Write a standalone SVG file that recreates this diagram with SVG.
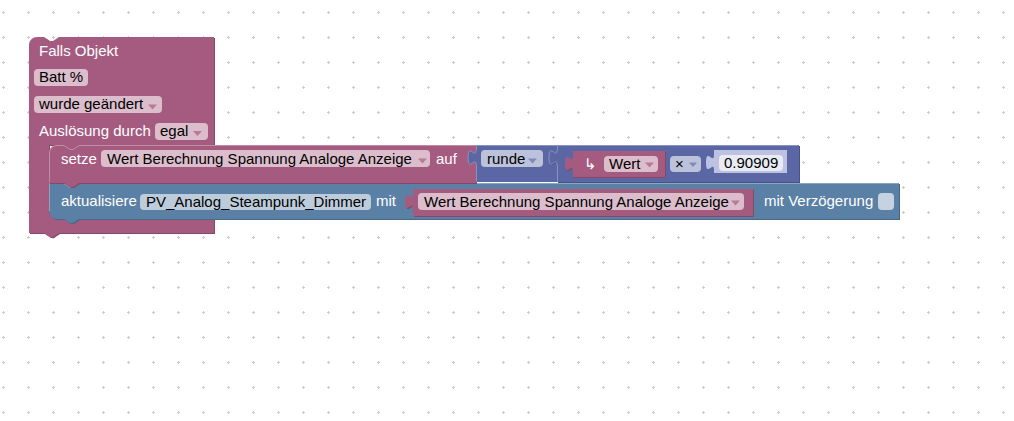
<svg xmlns="http://www.w3.org/2000/svg" width="1014" height="421" viewBox="0 0 1014 421">
<defs>
<pattern id="grid" patternUnits="userSpaceOnUse" x="0" y="0" width="25" height="25">
<path d="M2,12.5 H5 M3.5,11 V14" stroke="#cccccc" stroke-width="1" fill="none"/>
</pattern>
<style>
text{font-family:"Liberation Sans",Arial,Helvetica,sans-serif;font-size:15px}
.lbl{fill:#ffffff}
.ftx{fill:#000000}
.ev{fill:#A55B80}
.evd{fill:#844966}
.evl{fill:none;stroke:#C08CA6;stroke-width:1}
.ma{fill:#5B67A5}
.mad{fill:#495284}
.mal{fill:none;stroke:#8994C0;stroke-width:1}
.up{fill:#5B80A5}
.upd{fill:#496684}
.upl{fill:none;stroke:#89A6C0;stroke-width:1}
.fev{fill:#DBBDCC}
.fma{fill:#BDC2DB}
.fup{fill:#BDCCDB}
.aev{fill:#B97A99}
.ama{fill:#7F89BC}
</style>
</defs>
<rect width="1014" height="421" fill="#ffffff"/>
<rect width="1014" height="421" fill="url(#grid)"/>

<g id="event-block">
<path class="evd" transform="translate(1,1)" d="M29,45 A8,8 0 0 1 37,37 H44 l6,4 h3 l6,-4 H214 V145 H79 l-6,4 h-3 l-6,-4 H49 V211 A8,8 0 0 0 57,219 H214 V233 H59 l-6,4 h-3 l-6,-4 H29 Z"/>
<path class="ev" d="M29,45 A8,8 0 0 1 37,37 H44 l6,4 h3 l6,-4 H214 V145 H79 l-6,4 h-3 l-6,-4 H49 V211 A8,8 0 0 0 57,219 H214 V233 H59 l-6,4 h-3 l-6,-4 H29 Z"/>
<text class="lbl" x="39" y="56">Falls Objekt</text>
<rect class="fev" x="34" y="69" width="54" height="17" rx="4"/>
<text class="ftx" x="39" y="82">Batt %</text>
<rect class="fev" x="34" y="96" width="128" height="17" rx="4"/>
<text class="ftx" x="39" y="109">wurde geändert</text>
<polygon class="aev" points="148,104.5 157,104.5 152.5,109.5"/>
<text class="lbl" x="39" y="136">Auslösung durch</text>
<rect class="fev" x="155" y="123" width="53" height="17" rx="4"/>
<text class="ftx" x="160" y="136">egal</text>
<polygon class="aev" points="193,131 202,131 197.5,136"/>
</g>

<g id="aktualisiere-block">
<path class="upd" transform="translate(1,1)" d="M49,183 H64 l6,4 h3 l6,-4 H899 V219 H79 l-6,4 h-3 l-6,-4 H57 A8,8 0 0 1 49,211 Z"/>
<path class="up" d="M49,183 H64 l6,4 h3 l6,-4 H899 V219 H79 l-6,4 h-3 l-6,-4 H57 A8,8 0 0 1 49,211 Z"/>
<path class="upl" d="M49.5,211 V183.5 H64 l6,4 h3 l6,-4 H898.5"/>
<text class="lbl" x="61" y="206">aktualisiere</text>
<rect class="fup" x="140" y="194" width="231" height="16" rx="4"/>
<text class="ftx" x="146" y="207">PV_Analog_Steampunk_Dimmer</text>
<text class="lbl" x="376" y="206">mit</text>
<text class="lbl" x="764" y="206">mit Verzögerung</text>
<rect x="878" y="193" width="16" height="17" rx="4" fill="#C5D2DF"/>
</g>

<g id="setze-block">
<path class="evd" transform="translate(1,1)" d="M49,153 A8,8 0 0 1 57,145 H64 l6,4 h3 l6,-4 H476 V183 H79 l-6,4 h-3 l-6,-4 H49 Z"/>
<path class="ev" d="M49,153 A8,8 0 0 1 57,145 H64 l6,4 h3 l6,-4 H476 V183 H79 l-6,4 h-3 l-6,-4 H49 Z"/>
<path class="evl" d="M49.5,182 V153 A7.5,7.5 0 0 1 57,145.5 H64 l6,4 h3 l6,-4 H476"/>
<text class="lbl" x="61" y="164">setze</text>
<rect class="fev" x="101" y="150" width="329" height="17" rx="4"/>
<text class="ftx" x="107" y="164">Wert Berechnung Spannung Analoge Anzeige</text>
<polygon class="aev" points="418,158.5 427,158.5 422.5,163.5"/>
<text class="lbl" x="436" y="164">auf</text>
</g>

<g id="runde-block">
<path class="ma" d="M476,145 H557 V182 H476 V165 c0,-10 -8,8 -8,-7.5 s8,2.5 8,-7.5 Z"/>
<path class="mal" d="M476.5,150 V145.5 H557 M476.5,165 V181.5"/>
<path class="mal" d="M476,165 c0,-10 -8,8 -8,-7.5 s8,2.5 8,-7.5"/>
<rect class="fma" x="481" y="150" width="62" height="17" rx="4"/>
<text class="ftx" x="487" y="164">runde</text>
<polygon class="ama" points="528,158.5 537,158.5 532.5,163.5"/>
</g>

<g id="multiply-block">
<path class="mad" transform="translate(1,1)" d="M557,145 H799 V182 H557 V165 c0,-10 -8,8 -8,-7.5 s8,2.5 8,-7.5 Z"/>
<path class="ma" d="M557,145 H799 V182 H557 V165 c0,-10 -8,8 -8,-7.5 s8,2.5 8,-7.5 Z"/>
<path class="mal" d="M557.5,150 V145.5 H798.5 M557.5,165 V181.5"/>
<path class="mal" d="M557,165 c0,-10 -8,8 -8,-7.5 s8,2.5 8,-7.5"/>
<rect class="fma" x="670" y="156" width="31" height="16" rx="4"/>
<text class="ftx" x="675" y="169">×</text>
<polygon class="ama" points="689,162.5 697,162.5 693,167"/>
</g>

<g id="wert-var-block">
<path class="evd" transform="translate(1,1)" d="M573,151 H665 V177 H573 V171 c0,-10 -8,8 -8,-7.5 s8,2.5 8,-7.5 Z"/>
<path class="ev" d="M573,151 H665 V177 H573 V171 c0,-10 -8,8 -8,-7.5 s8,2.5 8,-7.5 Z"/>
<text class="lbl" x="584" y="169" style="font-family:'DejaVu Sans',sans-serif;font-size:15px">↳</text>
<rect class="fev" x="604" y="156" width="54" height="16" rx="4"/>
<text class="ftx" x="609" y="169">Wert</text>
<polygon class="aev" points="645,162.5 654,162.5 649.5,167.5"/>
</g>

<g id="number-block">
<path fill="#BCC2DF" d="M714,150 H787 V173 H714 V170 c0,-10 -8,8 -8,-7.5 s8,2.5 8,-7.5 Z"/>
<rect x="719" y="155" width="64" height="16" rx="4" fill="#E8EAF4"/>
<text class="ftx" x="724" y="168">0.90909</text>
</g>

<g id="wert-berechnung-var-block">
<path class="evd" transform="translate(1,1)" d="M413,189 H753 V216 H413 V209 c0,-10 -8,8 -8,-7.5 s8,2.5 8,-7.5 Z"/>
<path class="ev" d="M413,189 H753 V216 H413 V209 c0,-10 -8,8 -8,-7.5 s8,2.5 8,-7.5 Z"/>
<rect class="fev" x="418" y="193" width="326" height="17" rx="4"/>
<text class="ftx" x="424" y="207">Wert Berechnung Spannung Analoge Anzeige</text>
<polygon class="aev" points="731,200.5 740,200.5 735.5,205.5"/>
</g>

<g id="connectors"></g>
</svg>
